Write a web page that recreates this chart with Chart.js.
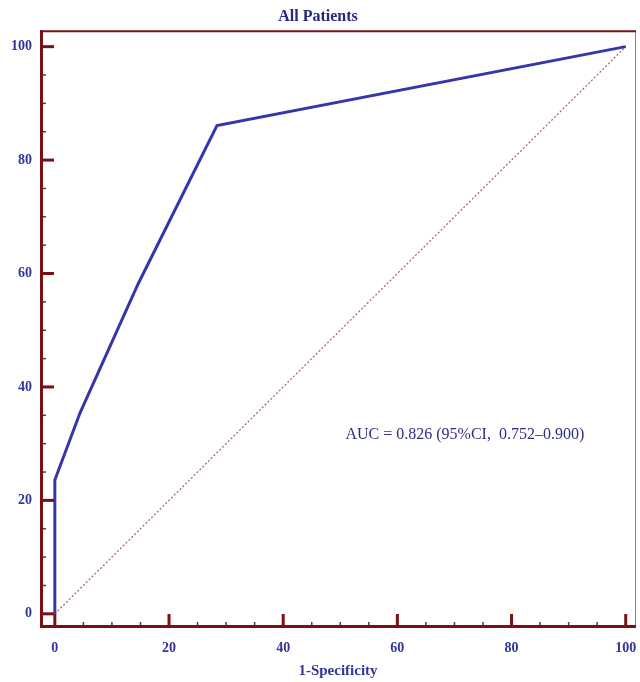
<!DOCTYPE html>
<html>
<head>
<meta charset="utf-8">
<script src="https://cdn.jsdelivr.net/npm/chart.js@4.4.1/dist/chart.umd.min.js"></script>
<style>
  html, body { margin: 0; padding: 0; background: #fff; }
  #wrap { width: 640px; height: 682px; }
</style>
</head>
<body>
<div id="wrap"><canvas id="roc"></canvas></div>
<script>
// ROC curve data (1-Specificity vs Sensitivity, in %)
const rocX = [0, 0, 4.4, 14.6, 28.4, 100];
const rocY = [0, 23.6, 35.4, 58.2, 86.1, 100];
const refX = [0, 100];
const refY = [0, 100];

// Axis ticks
const xMajorTicks = [0, 20, 40, 60, 80, 100];
const yMajorTicks = [0, 20, 40, 60, 80, 100];
const minorStep = 5;

const titleText = 'All Patients';
const xTitle = '1-Specificity';
const aucText = 'AUC = 0.826 (95%CI,  0.752\u20130.900)';
const aucPos = { x: 50.9, y: 31.6 };

const labelColor = '#34349a';
const frameColor = '#7a0f14';

function toPoints(xs, ys) {
    return xs.map((x, i) => ({ x: x, y: ys[i] }));
}

// Frame, inward ticks and AUC label
const framePlugin = {
    id: 'frame',
    afterDatasetsDraw(chart) {
        const ctx = chart.ctx;
        const a = chart.chartArea;
        const xs = chart.scales.x;
        const ys = chart.scales.y;
        ctx.save();

        // minor ticks
        ctx.strokeStyle = '#5a3a3a';
        ctx.lineWidth = 1.5;
        for (let v = 0; v <= 100; v += minorStep) {
            if (v % 20 === 0) continue;
            const px = xs.getPixelForValue(v);
            ctx.beginPath();
            ctx.moveTo(px, a.bottom);
            ctx.lineTo(px, a.bottom - 6);
            ctx.stroke();
            const py = ys.getPixelForValue(v);
            ctx.beginPath();
            ctx.moveTo(a.left, py);
            ctx.lineTo(a.left + 6, py);
            ctx.stroke();
        }

        // major ticks
        ctx.strokeStyle = frameColor;
        ctx.lineWidth = 3;
        xMajorTicks.forEach(v => {
            const px = xs.getPixelForValue(v);
            ctx.beginPath();
            ctx.moveTo(px, a.bottom);
            ctx.lineTo(px, a.bottom - 14);
            ctx.stroke();
        });
        yMajorTicks.forEach(v => {
            const py = ys.getPixelForValue(v);
            ctx.beginPath();
            ctx.moveTo(a.left, py);
            ctx.lineTo(a.left + 14, py);
            ctx.stroke();
        });

        // frame
        ctx.strokeStyle = '#c46a6a';
        ctx.lineWidth = 1;
        ctx.beginPath();
        ctx.moveTo(a.right - 0.5, a.top);
        ctx.lineTo(a.right - 0.5, a.bottom);
        ctx.stroke();
        ctx.strokeStyle = frameColor;
        ctx.lineWidth = 2;
        ctx.beginPath();
        ctx.moveTo(a.left, a.top + 1);
        ctx.lineTo(a.right, a.top + 1);
        ctx.stroke();
        ctx.lineWidth = 3;
        ctx.beginPath();
        ctx.moveTo(a.left + 1.5, a.top);
        ctx.lineTo(a.left + 1.5, a.bottom - 1.5);
        ctx.lineTo(a.right, a.bottom - 1.5);
        ctx.stroke();

        // AUC annotation
        ctx.fillStyle = '#2e2e86';
        ctx.font = '16px "Liberation Serif", serif';
        ctx.textBaseline = 'middle';
        ctx.textAlign = 'left';
        ctx.fillText(aucText, xs.getPixelForValue(aucPos.x), ys.getPixelForValue(aucPos.y));
        ctx.restore();
    }
};

const tickFont = { family: '"Liberation Serif", serif', size: 14, weight: 'bold' };

new Chart(document.getElementById('roc'), {
    type: 'scatter',
    data: {
        datasets: [
            {
                data: toPoints(rocX, rocY),
                showLine: true,
                borderColor: '#3636a8',
                borderWidth: 3,
                pointRadius: 0,
                tension: 0
            },
            {
                data: toPoints(refX, refY),
                showLine: true,
                borderColor: '#a0606c',
                borderWidth: 1.2,
                borderDash: [2, 2],
                pointRadius: 0
            }
        ]
    },
    options: {
        responsive: true,
        maintainAspectRatio: false,
        animation: false,
        layout: { padding: { left: 0, right: 4, top: 0, bottom: 0 } },
        scales: {
            x: {
                type: 'linear',
                min: -2.6,
                max: 101.8,
                afterBuildTicks: s => { s.ticks = xMajorTicks.map(v => ({ value: v })); },
                afterFit: s => { s.height = 54; s.paddingLeft = 0; s.paddingRight = 0; },
                grid: { display: false, drawTicks: false },
                border: { display: false },
                ticks: { color: labelColor, font: tickFont, padding: 12, maxRotation: 0 },
                title: {
                    display: true,
                    text: xTitle,
                    color: labelColor,
                    font: { family: '"Liberation Serif", serif', size: 15, weight: 'bold' },
                    padding: { top: 2, bottom: 2 }
                }
            },
            y: {
                type: 'linear',
                min: -2.5,
                max: 102.9,
                afterBuildTicks: s => { s.ticks = yMajorTicks.map(v => ({ value: v })); },
                afterFit: s => { s.width = 40; s.paddingTop = 0; s.paddingBottom = 0; },
                grid: { display: false, drawTicks: false },
                border: { display: false },
                ticks: { color: labelColor, font: tickFont, padding: 8 }
            }
        },
        plugins: {
            legend: { display: false },
            tooltip: { enabled: false },
            title: {
                display: true,
                text: titleText,
                color: '#26267e',
                font: { family: '"Liberation Serif", serif', size: 16, weight: 'bold' },
                padding: { top: 7, bottom: 4 }
            }
        }
    },
    plugins: [framePlugin]
});
</script>
</body>
</html>
